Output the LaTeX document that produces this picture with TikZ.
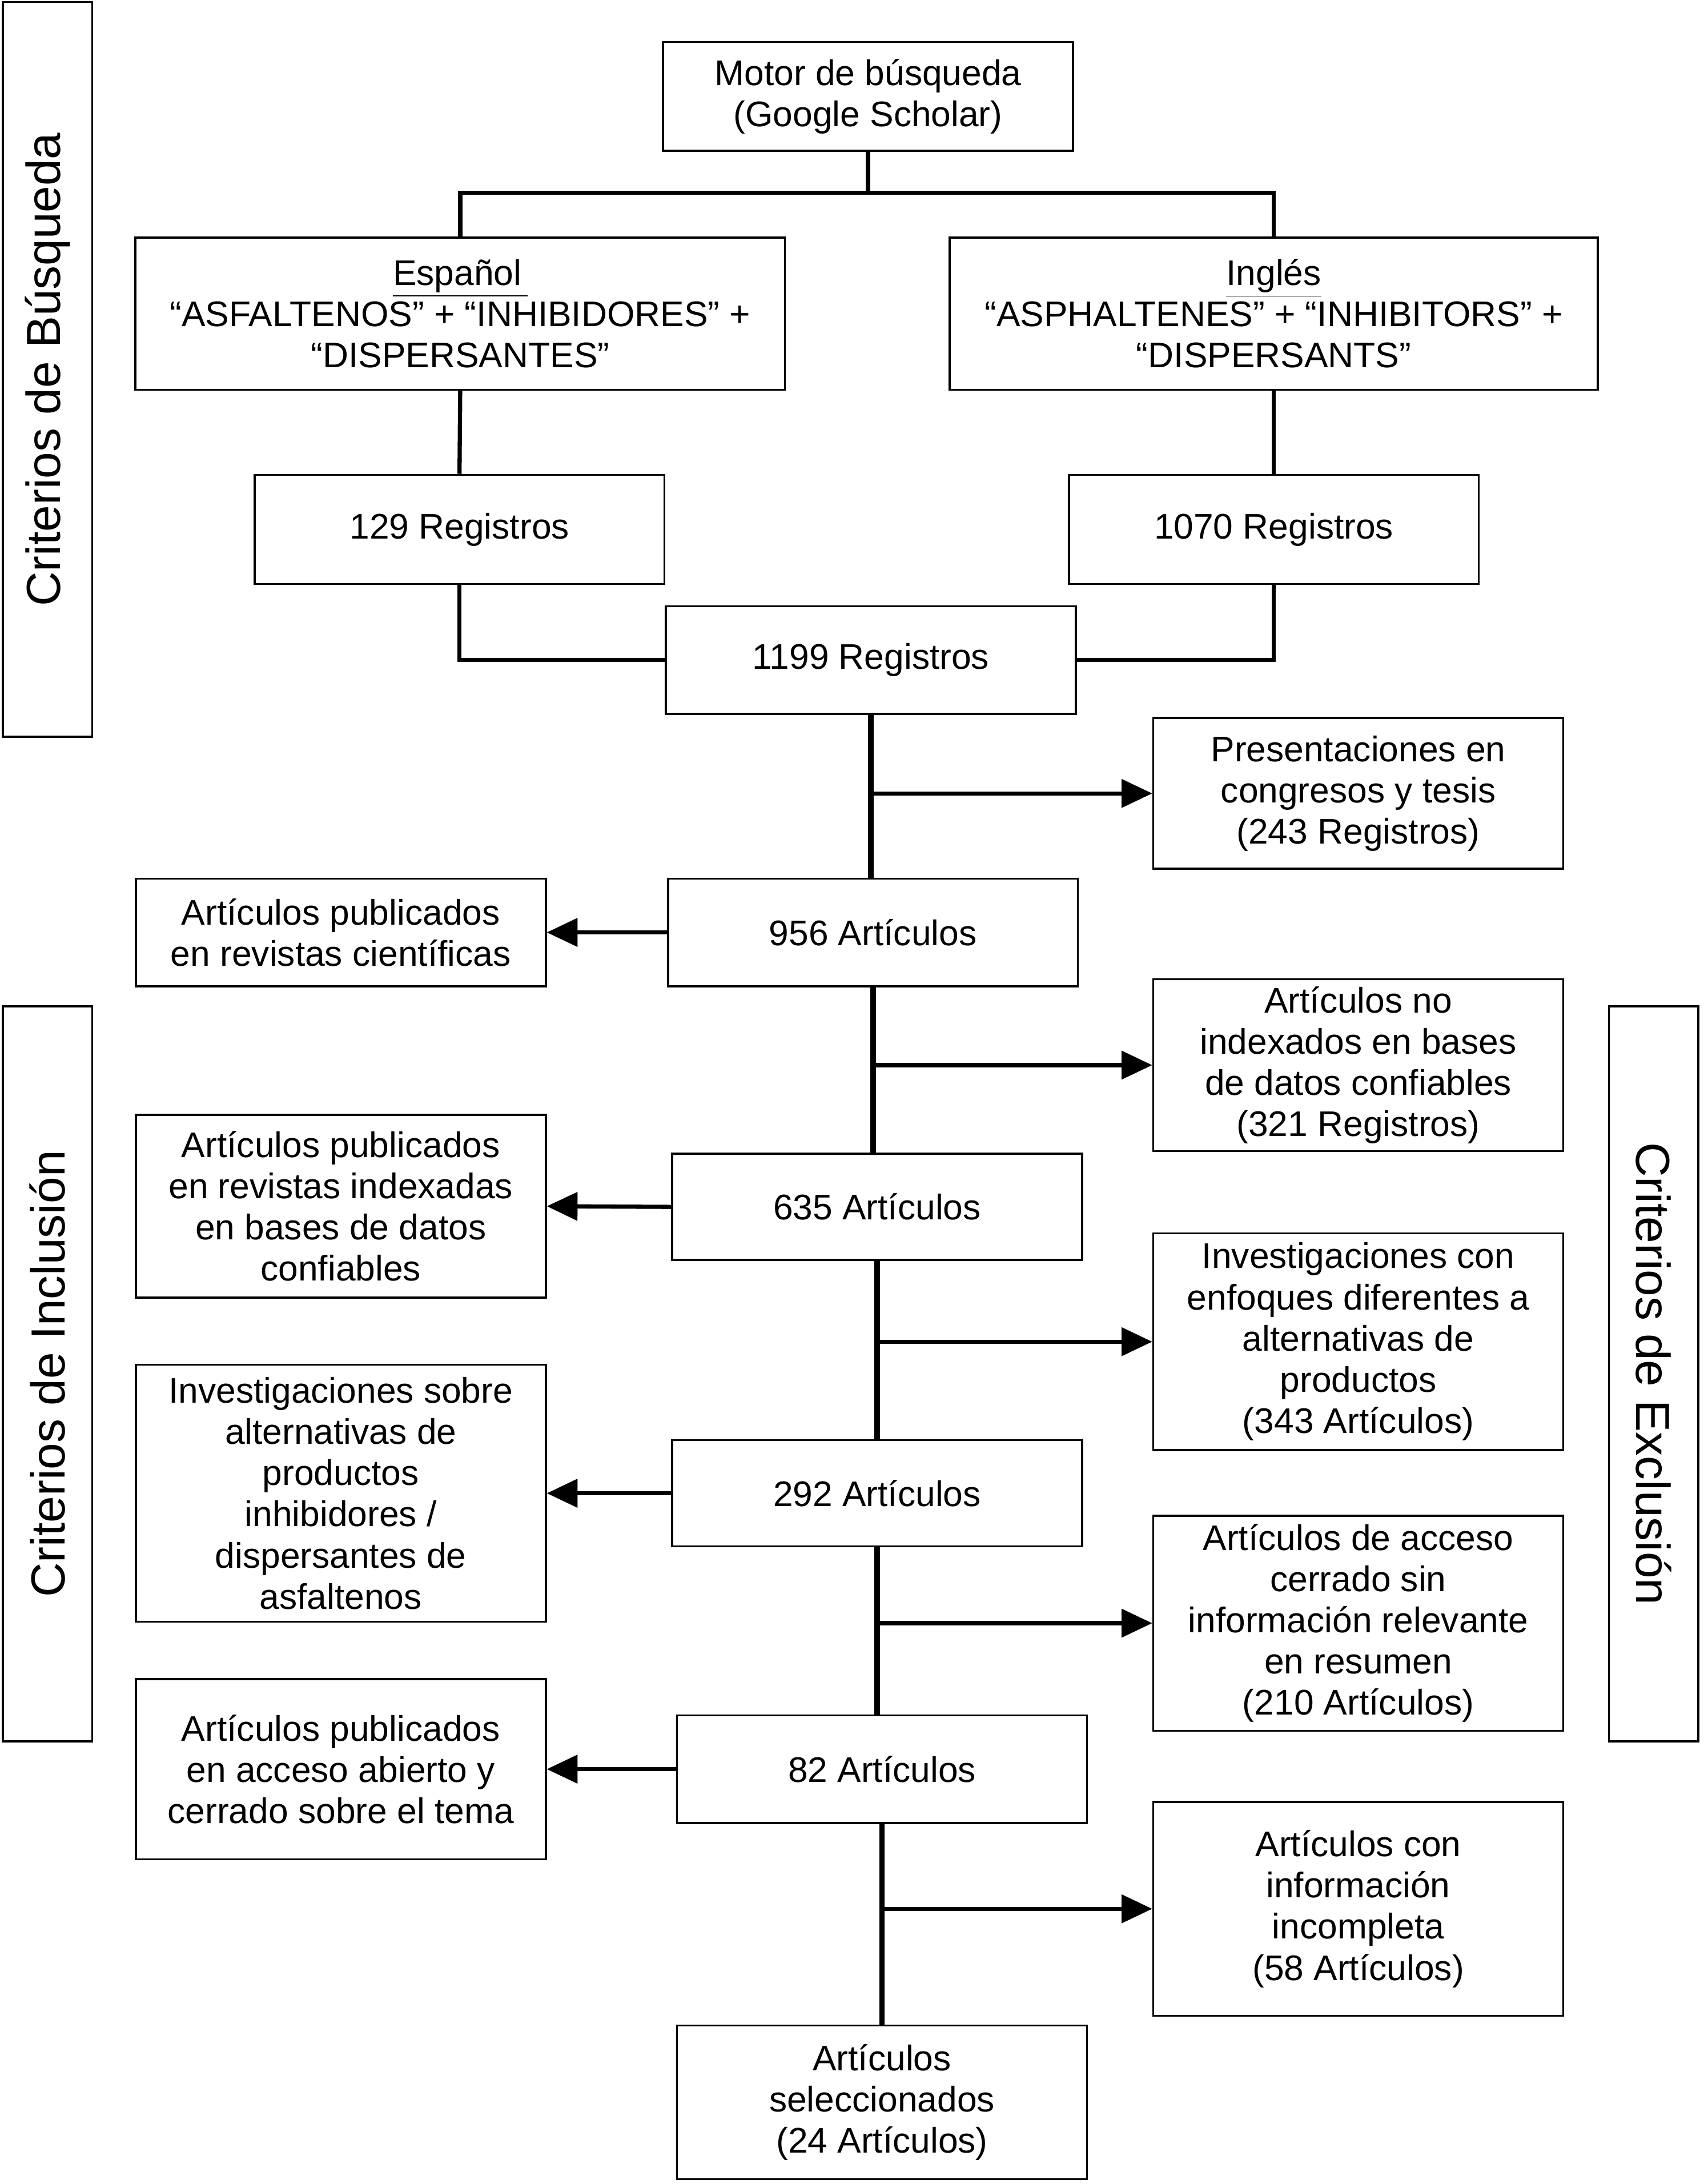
\documentclass[tikz,border=0pt]{standalone}
\usepackage{fontspec}
\setmainfont{Liberation Sans}
\usepackage{tikz}
\usetikzlibrary{arrows.meta}
\tikzset{box/.style = {draw, line width=0.85pt, fill=white, align=center, inner sep=0pt, minimum width=5.87cm, font=\fontsize{14.5}{16.8}\selectfont}}
\tikzset{sidebox/.style = {draw, line width=0.85pt, inner sep=0pt, minimum width=10.52cm, minimum height=1.28cm, font=\fontsize{19.5}{22}\selectfont}}
\tikzset{link/.style = {line width=1.7pt}}
\tikzset{spine/.style = {line width=2.3pt}}
\tikzset{edge/.style = {-{Triangle[length=0.44cm, width=0.4cm]}, line width=1.7pt}}

\begin{document}
\begin{tikzpicture}[]
		\useasboundingbox (0,0) rectangle (24.4,-31.27);
		%draw side labels
		\node[sidebox, rotate=90](busq) at (0.68,-5.29){Criterios de Búsqueda};
		\node[sidebox, rotate=90](incl) at (0.68,-19.67){Criterios de Inclusión};
		\node[sidebox, rotate=-90](excl) at (23.68,-19.67){Criterios de Exclusión};

		%draw search boxes
		\node[box, minimum height=1.56cm](motor) at (12.43,-1.38){Motor de búsqueda\\(Google Scholar)};
		\node[box, minimum width=9.3cm, minimum height=2.18cm](esp) at (6.59,-4.49){\underline{Español\,}\\“ASFALTENOS” + “INHIBIDORES” +\\“DISPERSANTES”};
		\node[box, minimum width=9.28cm, minimum height=2.18cm](ing) at (18.24,-4.49){\underline{Inglés}\\“ASPHALTENES” + “INHIBITORS” +\\“DISPERSANTS”};
		\node[box, minimum height=1.56cm](r129) at (6.58,-7.58){129 Registros};
		\node[box, minimum height=1.56cm](r1070) at (18.24,-7.58){1070 Registros};
		\node[box, minimum height=1.54cm](r1199) at (12.47,-9.45){1199 Registros};
		\coordinate(j) at (12.43,-2.76);
		\draw[link] (motor.south) -- (j);
		\draw[link] (esp.north) |- (j) -| (ing.north);
		\draw[link] (esp.south) -- (r129.north);
		\draw[link] (ing.south) -- (r1070.north);
		\draw[link] (r129.south) |- (r1199.west);
		\draw[link] (r1070.south) |- (r1199.east);

		%draw main column
		\node[box, minimum height=1.54cm](a956) at (12.5,-13.35){956 Artículos};
		\node[box, minimum height=1.52cm](a635) at (12.56,-17.28){635 Artículos};
		\node[box, minimum height=1.52cm](a292) at (12.56,-21.38){292 Artículos};
		\node[box, minimum height=1.54cm](a82) at (12.63,-25.33){82 Artículos};
		\node[box, minimum height=2.2cm](sel) at (12.63,-30.1){Artículos\\seleccionados\\(24 Artículos)};

		%draw inclusion boxes
		\node[box, minimum height=1.54cm](inc1) at (4.88,-13.35){Artículos publicados\\en revistas científicas};
		\node[box, minimum height=2.62cm](inc2) at (4.88,-17.27){Artículos publicados\\en revistas indexadas\\en bases de datos\\confiables};
		\node[box, minimum height=3.68cm](inc3) at (4.88,-21.38){Investigaciones sobre\\alternativas de\\productos\\inhibidores /\\dispersantes de\\asfaltenos};
		\node[box, minimum height=2.58cm](inc4) at (4.88,-25.33){Artículos publicados\\en acceso abierto y\\cerrado sobre el tema};

		%draw exclusion boxes
		\node[box, minimum height=2.16cm](pres) at (19.45,-11.36){Presentaciones en\\congresos y tesis\\(243 Registros)};
		\node[box, minimum height=2.46cm](exc2) at (19.45,-15.25){Artículos no\\indexados en bases\\de datos confiables\\(321 Registros)};
		\node[box, minimum height=3.1cm](exc3) at (19.45,-19.21){Investigaciones con\\enfoques diferentes a\\alternativas de\\productos\\(343 Artículos)};
		\node[box, minimum height=3.08cm](exc4) at (19.45,-23.24){Artículos de acceso\\cerrado sin\\información relevante\\en resumen\\(210 Artículos)};
		\node[box, minimum height=3.06cm](exc5) at (19.45,-27.33){Artículos con\\información\\incompleta\\(58 Artículos)};

		%draw vertical line and arrows
		\draw[spine] (r1199.south) -- (r1199.south |- a956.north);
		\draw[spine] (a956.south) -- (a956.south |- a635.north);
		\draw[spine] (a635.south) -- (a635.south |- a292.north);
		\draw[spine] (a292.south) -- (a292.south |- a82.north);
		\draw[spine] (a82.south) -- (sel.north);
		\draw[edge] (r1199.south |- pres.west) -- (pres.west);
		\draw[edge] (a956.south |- exc2.west) -- (exc2.west);
		\draw[edge] (a635.south |- exc3.west) -- (exc3.west);
		\draw[edge] (a292.south |- exc4.west) -- (exc4.west);
		\draw[edge] (a82.south |- exc5.west) -- (exc5.west);
		\draw[edge] (a956.west) -- (inc1.east);
		\draw[edge] (a635.west) -- (inc2.east);
		\draw[edge] (a292.west) -- (inc3.east);
		\draw[edge] (a82.west) -- (inc4.east);
		\end{tikzpicture}
\end{document}
